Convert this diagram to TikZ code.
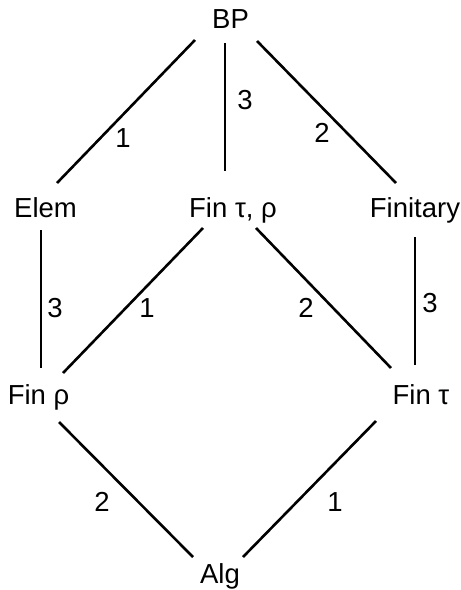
\documentclass[tikz,border=0pt]{standalone}
\usepackage{fontspec}
\setmainfont{Liberation Sans}
\usepackage{tikz}

\begin{document}
\begin{tikzpicture}[
			x=1pt, y=-1pt,
			font=\fontsize{27.5}{32}\selectfont,
			lattice/.style={anchor=base, inner sep=0pt},
			weight/.style={anchor=center, inner sep=0pt},
			edge/.style={line width=2.6pt}
			]
			\useasboundingbox (0,0) rectangle (461,590);

			% the lattice
			\node[lattice] (bp) at (230.5,28) {BP};
			\node[lattice] (elem) at (45.5,217) {Elem};
			\node[lattice] (fintr) at (233,217) {Fin τ, ρ};
			\node[lattice] (finitary) at (415,217) {Finitary};
			\node[lattice] (finr) at (38.5,404) {Fin ρ};
			\node[lattice] (fint) at (421,404) {Fin τ};
			\node[lattice] (alg) at (220,583) {Alg};

			\foreach \a/\ax/\ay/\b/\bx/\by in {bp/-35.5/12/elem/11.5/-34, bp/-5.5/15/fintr/-8/-46,
				bp/26.5/13/finitary/-19/-34, elem/-4.5/13/finr/2.5/-36, fintr/-30/11/finr/24.5/-31,
				fintr/23/11/fint/-30/-36, finitary/0/20/fint/-6/-39, finr/20.5/18/alg/-27/-26,
				fint/-45/17/alg/23/-26} {
				\draw[edge] ([shift={(\ax,\ay)}]\a.base) -- ([shift={(\bx,\by)}]\b.base);
			}

			% weights on the edges
			\foreach \n/\t/\x/\y in {wa/1/123/138, wb/3/245/100, wc/2/322/133, wd/3/55/308,
				we/1/147/308, wf/2/306/308, wg/3/430/303, wh/2/102/502, wi/1/335/502} {
				\node[weight] (\n) at (\x,\y) {\t};
			}

		\end{tikzpicture}
\end{document}
